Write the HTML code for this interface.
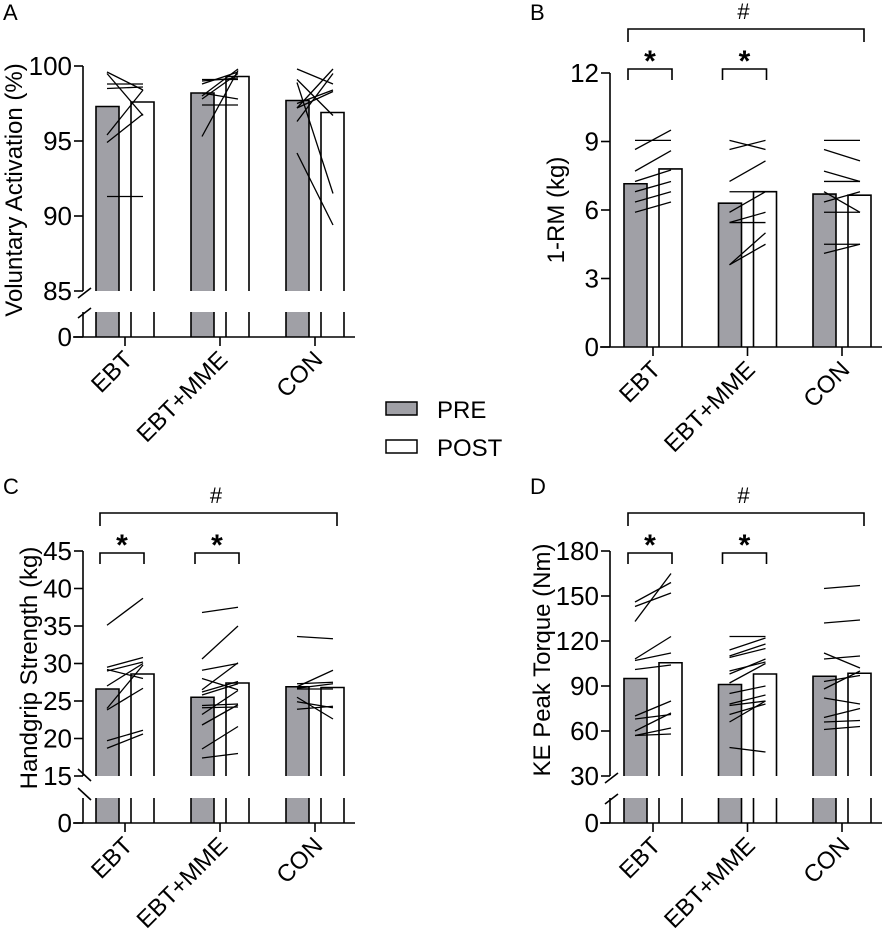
<!DOCTYPE html>
<html><head><meta charset="utf-8"><style>
html,body{margin:0;padding:0;background:#fff;}
svg{display:block;font-family:"Liberation Sans",Arial,sans-serif;}
</style></head><body>
<svg id="fig" width="886" height="932" viewBox="0 0 886 932" xmlns="http://www.w3.org/2000/svg"></svg>
<script>
const categories = ["EBT","EBT+MME","CON"];
// Panel A: voluntary activation
const aPre = [97.3, 98.2, 97.7];
const aPost = [97.6, 99.3, 96.9];
const aLines = [
 [[99.6,98.4],[98.8,98.8],[98.5,98.6],[95.4,98.4],[94.9,96.8],[99.5,96.7],[91.3,91.3]],
 [[99.0,99.2],[99.1,99.1],[98.8,99.6],[98.0,99.8],[97.8,99.5],[98.2,97.8],[97.4,97.4],[95.3,99.7]],
 [[99.8,98.8],[99.1,96.7],[97.2,99.8],[97.2,98.3],[97.5,98.4],[96.3,99.5],[98.9,91.5],[94.2,89.4]]
];
const aTicks = [85,90,95,100];
// Panel B: 1-RM
const bPre = [7.15, 6.3, 6.7];
const bPost = [7.8, 6.8, 6.65];
const bLines = [
 [[9.05,9.05],[8.65,9.5],[7.7,8.6],[7.25,7.75],[6.8,7.25],[6.35,6.8],[5.9,6.35]],
 [[9.05,8.65],[8.65,9.05],[7.25,8.15],[6.8,6.8],[5.9,6.8],[5.45,5.45],[5.45,5.9],[3.6,5.0],[3.6,4.5]],
 [[9.05,9.05],[8.65,8.15],[7.7,7.25],[7.25,7.25],[6.35,6.8],[6.8,5.9],[5.9,5.9],[4.5,4.5],[4.1,4.5]]
];
const bTicks = [0,3,6,9,12];
// Panel C: handgrip
const cPre = [26.6, 25.5, 26.9];
const cPost = [28.6, 27.4, 26.8];
const cLines = [
 [[35.1,38.7],[29.5,30.8],[29.2,28.0],[29.0,30.2],[27.0,30.0],[24.0,29.8],[23.8,26.7],[19.7,21.1],[18.7,20.6]],
 [[36.8,37.5],[30.6,35.0],[29.1,30.0],[28.0,26.5],[26.5,30.1],[26.2,27.6],[25.8,27.3],[24.4,24.6],[24.1,24.2],[23.2,26.4],[21.8,24.5],[18.6,21.6],[17.4,18.0]],
 [[33.6,33.3],[26.9,29.1],[27.3,27.5],[26.7,27.3],[26.6,26.6],[25.5,22.6],[24.9,24.1],[23.9,24.3]]
];
const cTicks = [15,20,25,30,35,40,45];
// Panel D: KE peak torque
const dPre = [95, 91, 96.5];
const dPost = [105.5, 98, 98.5];
const dLines = [
 [[146,159],[143,152],[133,165],[108,123],[107,112],[101,104],[70,80],[68,71],[60,72],[57,62],[57,58]],
 [[123,123],[114,122],[110,118],[109,115],[100,106],[98,108],[92,105],[85,90],[78,84],[77,80],[71,78],[66,80],[49,46]],
 [[155,157],[132,134],[108,110],[112,102],[88,100],[93,97],[82,78],[69,75],[66,67],[61,63]]
];
const dTicks = [30,60,90,120,150,180];

const NS="http://www.w3.org/2000/svg";
const svg=document.getElementById('fig');
function mk(tag,attrs,parent,txt){const e=document.createElementNS(NS,tag);for(const k in attrs)e.setAttribute(k,attrs[k]);if(txt!==undefined)e.textContent=txt;(parent||svg).appendChild(e);return e;}
const LS={stroke:'#000','stroke-width':1.6,fill:'none'};

function panel(o){
  const g=mk('g',{});
  
  
  const ax=o.ax;
  const y=v=>o.yTop+(o.max-v)/(o.max-o.min)*(o.yBot-o.yTop);
  const cx=i=>o.tick0+i*o.step;
  const L=mk('text',{x:ax-80,y:o.letterY,'font-size':22},g,o.letter);
  
  for(let i=0;i<3;i++){
    [[o.pre[i],-29,'#a0a0a6','pre'],[o.post[i],6,'#fff','post']].forEach(([v,dx,fill,k])=>{
      const x0=cx(i)+dx,w=23,top=y(v);
      const bg=mk('g',{},g);
      
      
      mk('rect',{x:x0,y:top,width:w,height:o.yBot-top,fill:fill},bg);
      mk('path',Object.assign({d:`M${x0},${o.yBot}V${top}H${x0+w}V${o.yBot}`},LS),bg);
      if(o.brk){
        mk('rect',{x:x0,y:o.lowTop,width:w,height:o.zero-o.lowTop,fill:fill},bg);
        mk('path',Object.assign({d:`M${x0},${o.lowTop}V${o.zero}M${x0+w},${o.lowTop}V${o.zero}`},LS),bg);
      }
    });
  }
  for(let i=0;i<3;i++){
    o.lines[i].forEach(p=>{
      const l=mk('line',{x1:cx(i)-18,y1:y(p[0]),x2:cx(i)+18,y2:y(p[1]),stroke:'#000','stroke-width':1.3},g);
      
    });
  }
  const ya=mk('g',{},g);
  mk('line',Object.assign({x1:ax,y1:y(o.max),x2:ax,y2:o.brk?o.yBot:o.zero},LS),ya);
  o.ticks.forEach(t=>{
    mk('line',Object.assign({x1:ax-9,y1:y(t),x2:ax,y2:y(t)},LS),ya);
    mk('text',{x:ax-11,y:y(t)+9,'font-size':26,'text-anchor':'end'},ya,String(t));
  });
  if(o.brk){
    mk('line',Object.assign({x1:ax,y1:o.lowTop,x2:ax,y2:o.zero},LS),ya);
    mk('line',Object.assign({x1:ax-9,y1:o.zero,x2:ax,y2:o.zero},LS),ya);
    mk('text',{x:ax-11,y:o.zero+9,'font-size':26,'text-anchor':'end'},ya,'0');
    if(o.slashLeft){
      mk('line',Object.assign({x1:ax-5,y1:o.yBot-7,x2:ax+8,y2:o.yBot+5},LS),ya);
      mk('line',Object.assign({x1:ax-5,y1:o.lowTop-10,x2:ax+8,y2:o.lowTop+2},LS),ya);
    }else{
      mk('line',Object.assign({x1:ax-5,y1:o.yBot+7,x2:ax+8,y2:o.yBot-3},LS),ya);
      mk('line',Object.assign({x1:ax-5,y1:o.lowTop+6,x2:ax+8,y2:o.lowTop-4},LS),ya);
    }
  }
  const t=mk('text',{x:0,y:0,'font-size':24,'text-anchor':'middle',transform:`translate(${o.titleX},${o.titleY}) rotate(-90)`},g,o.title);
  
  const xa=mk('g',{},g);
  mk('line',Object.assign({x1:ax-10,y1:o.zero,x2:ax+272,y2:o.zero},LS),xa);
  categories.forEach((c,i)=>{
    mk('line',Object.assign({x1:cx(i),y1:o.zero,x2:cx(i),y2:o.zero+9},LS),xa);
    const lt=mk('text',{x:0,y:0,'font-size':24,'text-anchor':'end',transform:`translate(${cx(i)+9},${o.zero+24}) rotate(-45)`},xa,c);
    
  });
  if(o.sig){
    const s=mk('g',{},g);
    mk('path',Object.assign({d:`M${cx(0)-25},${o.sig+13}V${o.sig}H${cx(2)+22}V${o.sig+13}`},LS),s);
    mk('text',{x:(cx(0)+cx(2))/2-4,y:o.sig-10,'font-size':22,'text-anchor':'middle'},s,'#');
    const sb=o.sig+40;
    [0,1].forEach(i=>{
      mk('path',Object.assign({d:`M${cx(i)-25},${sb+11}V${sb}H${cx(i)+19}V${sb+11}`},LS),s);
      mk('text',{x:cx(i)-3,y:sb+2,'font-size':30,'font-weight':'bold','text-anchor':'middle'},s,'*');
    });
  }
}
panel({name:'panel-a-voluntary-activation',letter:'A',letterY:20,ax:83,tick0:125,step:95,min:85,max:100,yTop:66,yBot:291,brk:true,lowTop:312,zero:337,
 pre:aPre,post:aPost,lines:aLines,ticks:aTicks,title:'Voluntary Activation (%)',titleX:22,titleY:190});
panel({name:'panel-b-1rm',letter:'B',letterY:20,ax:610,tick0:653,step:94.5,min:0,max:12,yTop:73,yBot:347,brk:false,zero:347,
 pre:bPre,post:bPost,lines:bLines,ticks:bTicks,title:'1-RM (kg)',titleX:564,titleY:210,sig:29});
panel({name:'panel-c-handgrip',letter:'C',letterY:494,ax:83,tick0:125,step:95,min:15,max:45,yTop:551,yBot:776,brk:true,slashLeft:true,lowTop:798,zero:823,
 pre:cPre,post:cPost,lines:cLines,ticks:cTicks,title:'Handgrip Strength (kg)',titleX:37,titleY:668,sig:513});
panel({name:'panel-d-ke-torque',letter:'D',letterY:494,ax:610,tick0:653,step:94.5,min:30,max:180,yTop:551,yBot:776,brk:true,lowTop:798,zero:823,
 pre:dPre,post:dPost,lines:dLines,ticks:dTicks,title:'KE Peak Torque (Nm)',titleX:550,titleY:660,sig:513});
const lg=mk('g',{});
const e1=mk('g',{},lg);
mk('rect',{x:386,y:402,width:31,height:13,fill:'#a0a0a6',stroke:'#000','stroke-width':1.5},e1);
mk('text',{x:437,y:418,'font-size':24},e1,'PRE');
const e2=mk('g',{},lg);
mk('rect',{x:386,y:440,width:31,height:13,fill:'#fff',stroke:'#000','stroke-width':1.5},e2);
mk('text',{x:437,y:456,'font-size':24},e2,'POST');
</script>
</body></html>
